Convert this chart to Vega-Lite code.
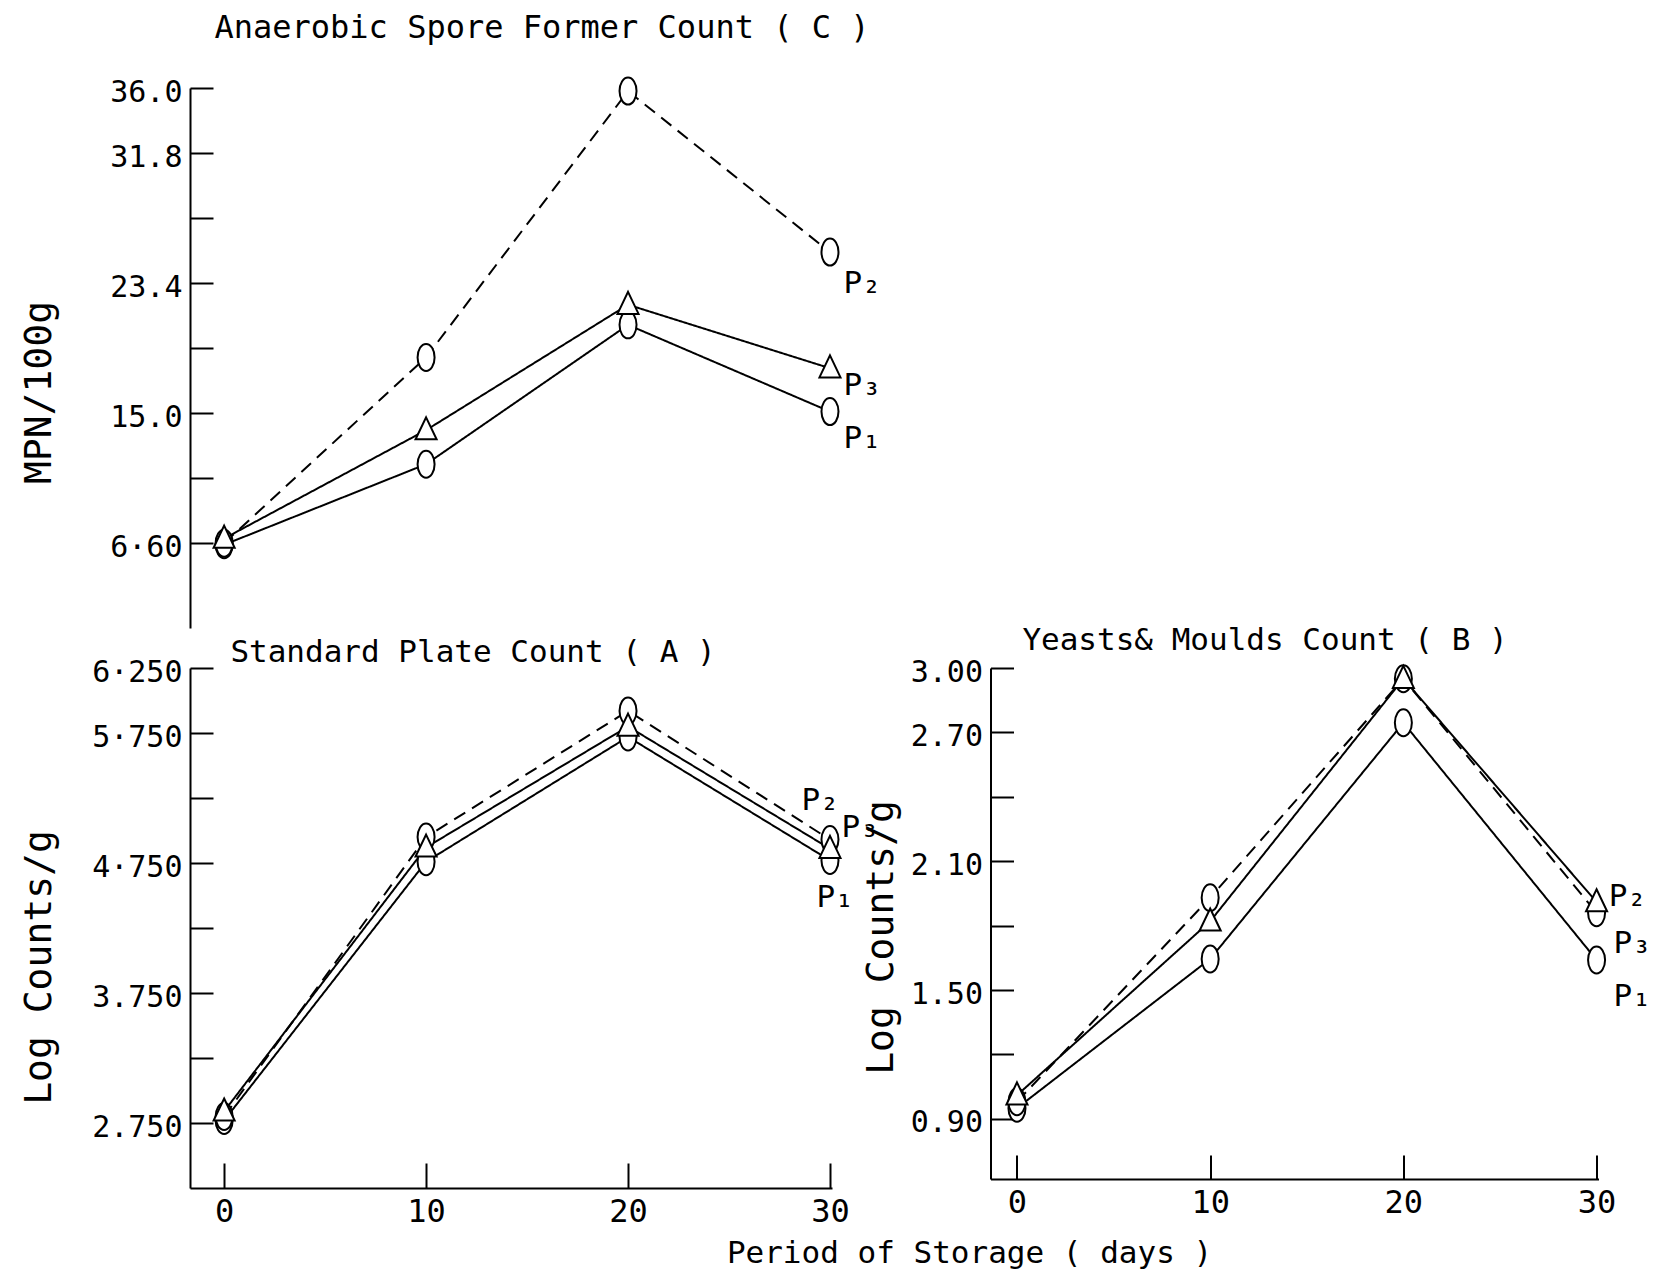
{
  "$schema": "https://vega.github.io/schema/vega-lite/v6.json",
  "background": "white",
  "padding": {"left": 20, "top": 11, "right": 5, "bottom": 5},
  "config": {
    "view": {"stroke": null},
    "font": "DejaVu Sans Mono",
    "title": {"font": "DejaVu Sans Mono", "fontSize": 31, "fontWeight": "normal", "color": "black"},
    "axis": {"labelFont": "DejaVu Sans Mono", "titleFont": "DejaVu Sans Mono", "labelFontSize": 30, "titleFontSize": 38, "titleFontWeight": "normal", "labelColor": "black", "titleColor": "black", "domainColor": "black", "tickColor": "black", "domainWidth": 2, "tickWidth": 2, "tickSize": -23, "grid": false, "labelPadding": 31},
    "text": {"font": "DejaVu Sans Mono"}
  },
  "datasets": {
    "pts": [
      {"panel": "C", "series": "P1", "day": 0, "value": 6.5},
      {"panel": "C", "series": "P1", "day": 10, "value": 11.7},
      {"panel": "C", "series": "P1", "day": 20, "value": 20.7},
      {"panel": "C", "series": "P1", "day": 30, "value": 15.1},
      {"panel": "C", "series": "P2", "day": 0, "value": 6.6},
      {"panel": "C", "series": "P2", "day": 10, "value": 18.6},
      {"panel": "C", "series": "P2", "day": 20, "value": 35.8},
      {"panel": "C", "series": "P2", "day": 30, "value": 25.4},
      {"panel": "C", "series": "P3", "day": 0, "value": 6.9},
      {"panel": "C", "series": "P3", "day": 10, "value": 13.9},
      {"panel": "C", "series": "P3", "day": 20, "value": 22.0},
      {"panel": "C", "series": "P3", "day": 30, "value": 17.9},
      {"panel": "A", "series": "P1", "day": 0, "value": 2.77},
      {"panel": "A", "series": "P1", "day": 10, "value": 4.76},
      {"panel": "A", "series": "P1", "day": 20, "value": 5.72},
      {"panel": "A", "series": "P1", "day": 30, "value": 4.77},
      {"panel": "A", "series": "P2", "day": 0, "value": 2.8},
      {"panel": "A", "series": "P2", "day": 10, "value": 4.95},
      {"panel": "A", "series": "P2", "day": 20, "value": 5.92},
      {"panel": "A", "series": "P2", "day": 30, "value": 4.93},
      {"panel": "A", "series": "P3", "day": 0, "value": 2.84},
      {"panel": "A", "series": "P3", "day": 10, "value": 4.87},
      {"panel": "A", "series": "P3", "day": 20, "value": 5.8},
      {"panel": "A", "series": "P3", "day": 30, "value": 4.86},
      {"panel": "B", "series": "P1", "day": 0, "value": 0.95},
      {"panel": "B", "series": "P1", "day": 10, "value": 1.645},
      {"panel": "B", "series": "P1", "day": 20, "value": 2.745},
      {"panel": "B", "series": "P1", "day": 30, "value": 1.64},
      {"panel": "B", "series": "P2", "day": 0, "value": 0.98},
      {"panel": "B", "series": "P2", "day": 10, "value": 1.93},
      {"panel": "B", "series": "P2", "day": 20, "value": 2.95},
      {"panel": "B", "series": "P2", "day": 30, "value": 1.86},
      {"panel": "B", "series": "P3", "day": 0, "value": 1.01},
      {"panel": "B", "series": "P3", "day": 10, "value": 1.82},
      {"panel": "B", "series": "P3", "day": 20, "value": 2.95},
      {"panel": "B", "series": "P3", "day": 30, "value": 1.91}
    ],
    "labs": [
      {"panel": "C", "lab": "P₂", "day": 30.67, "value": 22.76},
      {"panel": "C", "lab": "P₃", "day": 30.67, "value": 16.17},
      {"panel": "C", "lab": "P₁", "day": 30.67, "value": 12.74},
      {"panel": "A", "lab": "P₂", "day": 28.59, "value": 5.155},
      {"panel": "A", "lab": "P₃", "day": 30.57, "value": 4.948},
      {"panel": "A", "lab": "P₁", "day": 29.33, "value": 4.41},
      {"panel": "B", "lab": "P₂", "day": 30.63, "value": 1.892},
      {"panel": "B", "lab": "P₃", "day": 30.88, "value": 1.673},
      {"panel": "B", "lab": "P₁", "day": 30.88, "value": 1.426}
    ]
  },
  "columns": 2,
  "spacing": {"row": 40, "column": 158.5},
  "bounds": "flush",
  "align": "each",
  "resolve": {"scale": {"x": "independent", "y": "independent", "shape": "independent", "strokeDash": "independent"}},
  "concat": [
    {
      "width": 642,
      "height": 540,
      "title": {"text": "Anaerobic Spore Former Count ( C )", "anchor": "middle", "dx": 31, "offset": 4, "baseline": "alphabetic", "fontSize": 32},
      "layer": [
        {
          "data": {"name": "pts"},
          "transform": [{"filter": "datum.panel == 'C'"}],
          "mark": {"type": "line", "color": "black", "strokeWidth": 2},
          "encoding": {
            "x": {"field": "day", "type": "quantitative", "scale": {"domain": [-1.69, 30.1], "nice": false, "zero": false}, "axis": null},
            "y": {"field": "value", "type": "quantitative", "scale": {"domain": [1.12, 36], "nice": false, "zero": false},
              "axis": {"values": [6.6, 10.8, 15, 19.2, 23.4, 27.6, 31.8, 36], "labelOffset": 4,
                "labelExpr": "datum.value == 36 ? '36.0' : datum.value == 31.8 ? '31.8' : datum.value == 23.4 ? '23.4' : datum.value == 15 ? '15.0' : datum.value == 6.6 ? '6·60' : ''",
                "title": "MPN/100g", "titleX": -151, "titleY": 304, "titleAngle": -90, "titleBaseline": "middle", "titleAlign": "center"}},
            "detail": {"field": "series"},
            "strokeDash": {"field": "series", "type": "nominal", "scale": {"domain": ["P1", "P2", "P3"], "range": [[1, 0], [13, 8], [1, 0]]}, "legend": null}
          }
        },
        {
          "data": {"name": "pts"},
          "transform": [{"filter": "datum.panel == 'C'"}],
          "mark": {"type": "point", "filled": true, "fill": "white", "stroke": "black", "strokeWidth": 2, "opacity": 1, "size": 729},
          "encoding": {
            "x": {"field": "day", "type": "quantitative"},
            "y": {"field": "value", "type": "quantitative"},
            "shape": {"field": "series", "type": "nominal", "scale": {"domain": ["P1", "P2", "P3"], "range": ["M0,-1C0.348,-1,0.63,-0.552,0.63,0C0.63,0.552,0.348,1,0,1C-0.348,1,-0.63,0.552,-0.63,0C-0.63,-0.552,-0.348,-1,0,-1Z", "M0,-1C0.348,-1,0.63,-0.552,0.63,0C0.63,0.552,0.348,1,0,1C-0.348,1,-0.63,0.552,-0.63,0C-0.63,-0.552,-0.348,-1,0,-1Z", "M0,-0.95L0.78,0.68L-0.78,0.68Z"]}, "legend": null}
          }
        },
        {
          "data": {"name": "labs"},
          "transform": [{"filter": "datum.panel == 'C'"}],
          "mark": {"type": "text", "align": "left", "baseline": "alphabetic", "fontSize": 31, "color": "black"},
          "encoding": {
            "x": {"field": "day", "type": "quantitative"},
            "y": {"field": "value", "type": "quantitative"},
            "text": {"field": "lab"}
          }
        }
      ]
    },
    {
      "width": 608,
      "height": 540,
      "data": {"values": [{"t": ""}]},
      "mark": {"type": "text"},
      "encoding": {"text": {"field": "t"}}
    },
    {
      "width": 642,
      "height": 520,
      "title": {"text": "Standard Plate Count ( A )", "anchor": "middle", "dx": -38, "offset": -35.5, "baseline": "alphabetic"},
      "layer": [
        {
          "data": {"name": "pts"},
          "transform": [{"filter": "datum.panel == 'A'"}],
          "mark": {"type": "line", "color": "black", "strokeWidth": 2},
          "encoding": {
            "x": {"field": "day", "type": "quantitative", "scale": {"domain": [-1.69, 30.1], "nice": false, "zero": false},
              "axis": {"values": [0, 10, 20, 30], "format": "d", "labelFontSize": 32, "tickSize": -25, "labelPadding": 33,
                "title": "Period of Storage ( days )", "titleFontSize": 31, "titleX": 779, "titleY": 74, "titleBaseline": "alphabetic", "titleAlign": "center"}},
            "y": {"field": "value", "type": "quantitative", "scale": {"domain": [2.25, 6.25], "nice": false, "zero": false},
              "axis": {"values": [2.75, 3.25, 3.75, 4.25, 4.75, 5.25, 5.75, 6.25], "labelOffset": 4,
                "labelExpr": "datum.value == 6.25 ? '6·250' : datum.value == 5.75 ? '5·750' : datum.value == 4.75 ? '4·750' : datum.value == 3.75 ? '3.750' : datum.value == 2.75 ? '2.750' : ''",
                "title": "Log Counts/g", "titleX": -151, "titleY": 299, "titleAngle": -90, "titleBaseline": "middle", "titleAlign": "center"}},
            "detail": {"field": "series"},
            "strokeDash": {"field": "series", "type": "nominal", "scale": {"domain": ["P1", "P2", "P3"], "range": [[1, 0], [13, 8], [1, 0]]}, "legend": null}
          }
        },
        {
          "data": {"name": "pts"},
          "transform": [{"filter": "datum.panel == 'A'"}],
          "mark": {"type": "point", "filled": true, "fill": "white", "stroke": "black", "strokeWidth": 2, "opacity": 1, "size": 729},
          "encoding": {
            "x": {"field": "day", "type": "quantitative"},
            "y": {"field": "value", "type": "quantitative"},
            "shape": {"field": "series", "type": "nominal", "scale": {"domain": ["P1", "P2", "P3"], "range": ["M0,-1C0.348,-1,0.63,-0.552,0.63,0C0.63,0.552,0.348,1,0,1C-0.348,1,-0.63,0.552,-0.63,0C-0.63,-0.552,-0.348,-1,0,-1Z", "M0,-1C0.348,-1,0.63,-0.552,0.63,0C0.63,0.552,0.348,1,0,1C-0.348,1,-0.63,0.552,-0.63,0C-0.63,-0.552,-0.348,-1,0,-1Z", "M0,-0.95L0.78,0.68L-0.78,0.68Z"]}, "legend": null}
          }
        },
        {
          "data": {"name": "labs"},
          "transform": [{"filter": "datum.panel == 'A'"}],
          "mark": {"type": "text", "align": "left", "baseline": "alphabetic", "fontSize": 31, "color": "black"},
          "encoding": {
            "x": {"field": "day", "type": "quantitative"},
            "y": {"field": "value", "type": "quantitative"},
            "text": {"field": "lab"}
          }
        }
      ]
    },
    {
      "width": 608,
      "height": 511,
      "title": {"text": "Yeasts& Moulds Count ( B )", "anchor": "middle", "dx": -29.5, "offset": -24, "baseline": "alphabetic"},
      "layer": [
        {
          "data": {"name": "pts"},
          "transform": [{"filter": "datum.panel == 'B'"}],
          "mark": {"type": "line", "color": "black", "strokeWidth": 2},
          "encoding": {
            "x": {"field": "day", "type": "quantitative", "scale": {"domain": [-1.37, 30.1], "nice": false, "zero": false},
              "axis": {"values": [0, 10, 20, 30], "format": "d", "labelFontSize": 32, "tickSize": -24, "labelPadding": 32, "title": null}},
            "y": {"field": "value", "type": "quantitative", "scale": {"domain": [0.62, 3.0], "nice": false, "zero": false},
              "axis": {"values": [0.9, 1.2, 1.5, 1.8, 2.1, 2.4, 2.7, 3.0], "labelOffset": 4,
                "labelExpr": "datum.value == 3 ? '3.00' : datum.value == 2.7 ? '2.70' : datum.value == 2.1 ? '2.10' : datum.value == 1.5 ? '1.50' : datum.value == 0.9 ? '0.90' : ''",
                "title": "Log Counts/g", "titleX": -109.5, "titleY": 269, "titleAngle": -90, "titleBaseline": "middle", "titleAlign": "center"}},
            "detail": {"field": "series"},
            "strokeDash": {"field": "series", "type": "nominal", "scale": {"domain": ["P1", "P2", "P3"], "range": [[1, 0], [13, 8], [1, 0]]}, "legend": null}
          }
        },
        {
          "data": {"name": "pts"},
          "transform": [{"filter": "datum.panel == 'B'"}],
          "mark": {"type": "point", "filled": true, "fill": "white", "stroke": "black", "strokeWidth": 2, "opacity": 1, "size": 729},
          "encoding": {
            "x": {"field": "day", "type": "quantitative"},
            "y": {"field": "value", "type": "quantitative"},
            "shape": {"field": "series", "type": "nominal", "scale": {"domain": ["P1", "P2", "P3"], "range": ["M0,-1C0.348,-1,0.63,-0.552,0.63,0C0.63,0.552,0.348,1,0,1C-0.348,1,-0.63,0.552,-0.63,0C-0.63,-0.552,-0.348,-1,0,-1Z", "M0,-1C0.348,-1,0.63,-0.552,0.63,0C0.63,0.552,0.348,1,0,1C-0.348,1,-0.63,0.552,-0.63,0C-0.63,-0.552,-0.348,-1,0,-1Z", "M0,-0.95L0.78,0.68L-0.78,0.68Z"]}, "legend": null}
          }
        },
        {
          "data": {"name": "labs"},
          "transform": [{"filter": "datum.panel == 'B'"}],
          "mark": {"type": "text", "align": "left", "baseline": "alphabetic", "fontSize": 31, "color": "black"},
          "encoding": {
            "x": {"field": "day", "type": "quantitative"},
            "y": {"field": "value", "type": "quantitative"},
            "text": {"field": "lab"}
          }
        }
      ]
    }
  ]
}
